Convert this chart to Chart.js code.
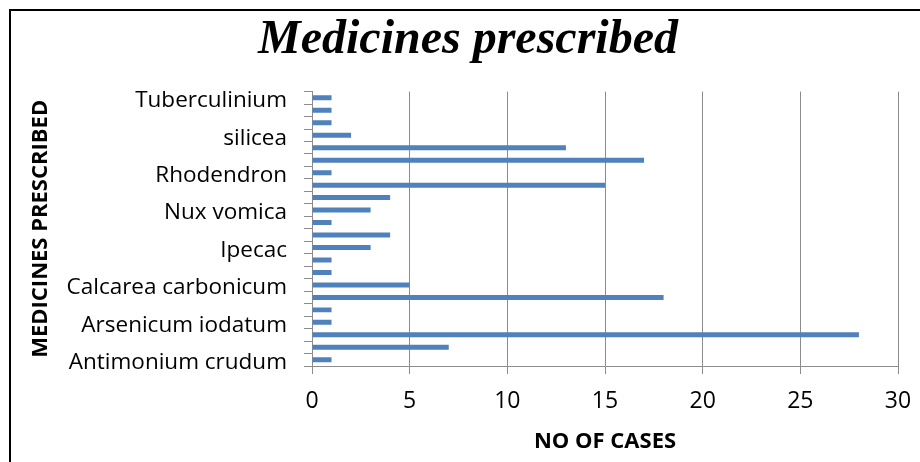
<!DOCTYPE html>
<html>
<head>
<meta charset="utf-8">
<script src="https://cdn.jsdelivr.net/npm/chart.js@4"></script>
<style>
  body { margin: 0; background: #fff; overflow: hidden; }
  #wrap { position: relative; width: 920px; height: 462px; }
  #frame { position: absolute; left: 9px; top: 9px; width: 930px; height: 470px; border: 2px solid #000; box-sizing: border-box; pointer-events: none; }
</style>
</head>
<body>
<div id="wrap">
  <canvas id="chartCanvas" width="920" height="462"></canvas>
  <div id="frame"></div>
</div>
<script>
// bottom to top, only every third name is printed on the chart
let medicines = ['Antimonium crudum', '', '', 'Arsenicum iodatum', '', '', 'Calcarea carbonicum', '', '',
    'Ipecac', '', '', 'Nux vomica', '', '', 'Rhodendron', '', '', 'silicea', '', '', 'Tuberculinium'];
let cases = [1, 7, 28, 1, 1, 18, 5, 1, 1, 3, 4, 1, 3, 4, 15, 1, 17, 13, 2, 1, 1, 1];
let caseTicks = [0, 5, 10, 15, 20, 25, 30];

const gridGray = '#8c8c8c';

const chartData = {
    labels: medicines,
    datasets: [
        {
            label: 'No of cases',
            backgroundColor: '#4f81bd',
            borderWidth: 0,
            barPercentage: 0.4,
            categoryPercentage: 1,
            data: cases
        }
    ]
};

const chartOptions = {
    indexAxis: 'y',
    responsive: false,
    animation: false,
    layout: { padding: { left: 16, right: 0, top: 0, bottom: 0 } },
    plugins: {
        legend: { display: false },
        tooltip: { enabled: false },
        title: {
            display: true,
            text: 'Medicines prescribed',
            color: '#000',
            font: { family: 'Liberation Serif', size: 48, weight: 'bold', style: 'italic' },
            padding: { top: 12, bottom: 22 }
        }
    },
    scales: {
        x: {
            min: caseTicks[0],
            max: caseTicks[caseTicks.length - 1],
            afterBuildTicks: (scale) => { scale.ticks = caseTicks.map((v) => ({ value: v })); },
            afterFit: (scale) => { scale.height = 96; scale.paddingRight = 22; },
            grid: { color: gridGray, lineWidth: 1, tickLength: 8 },
            border: { color: gridGray, width: 1 },
            ticks: { color: '#000', padding: 14, font: { family: 'Open Sans', size: 23 } },
            title: {
                display: true,
                text: 'NO OF CASES',
                color: '#000',
                font: { family: 'Open Sans', size: 22, weight: 'bold' },
                padding: { top: 0, bottom: 7 }
            }
        },
        y: {
            reverse: true,
            afterFit: (scale) => { scale.width = 296; },
            grid: { display: true, drawOnChartArea: false, drawTicks: true, tickLength: 8, color: gridGray, offset: true },
            border: { color: gridGray, width: 1 },
            ticks: { color: '#000', autoSkip: false, padding: 17, labelOffset: 3, font: { family: 'Open Sans', size: 22.5 } },
            title: {
                display: true,
                text: 'MEDICINES PRESCRIBED',
                color: '#000',
                font: { family: 'Open Sans', size: 22, weight: 'bold' },
                padding: { top: 12, bottom: 0 }
            }
        }
    }
};

const canvas = document.getElementById('chartCanvas');
new Chart(canvas, {
    type: 'bar',
    data: chartData,
    options: chartOptions
});
</script>
</body>
</html>
